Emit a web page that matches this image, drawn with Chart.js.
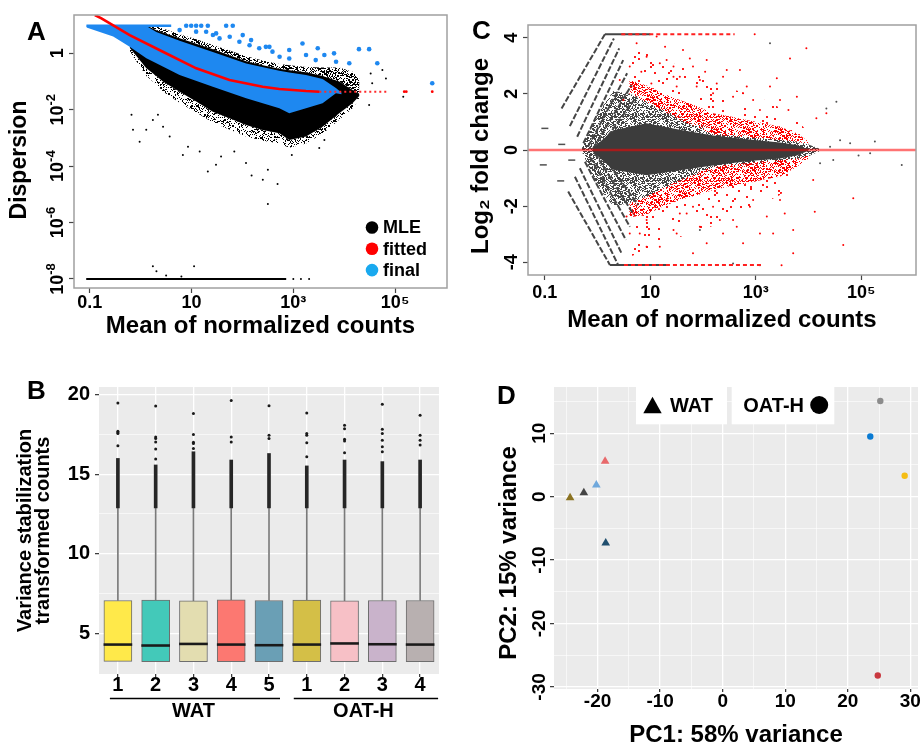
<!DOCTYPE html>
<html>
<head>
<meta charset="utf-8">
<title>DESeq2 overview</title>
<script src="https://cdn.jsdelivr.net/npm/chart.js@4.4.1/dist/chart.umd.min.js"></script>
<style>
  body { margin: 0; background: #fff; }
  #page { position: relative; width: 923px; height: 744px; overflow: hidden; }
  #page canvas { position: absolute; }
  .tag { position: absolute; font: bold 26px 'Liberation Sans', Arial, sans-serif; line-height: 26px; }
</style>
</head>
<body>
<div id="page">
  <canvas id="dispChart" width="460" height="345" style="left:0;top:0"></canvas>
  <canvas id="maChart" width="463" height="345" style="left:460px;top:0"></canvas>
  <canvas id="vstChart" width="460" height="374" style="left:0;top:370px"></canvas>
  <canvas id="pcaChart" width="443" height="374" style="left:480px;top:370px"></canvas>
  <div class="tag" style="left:27px;top:18px">A</div>
  <div class="tag" style="left:27px;top:377px">B</div>
  <div class="tag" style="left:472px;top:17px">C</div>
  <div class="tag" style="left:497px;top:382px">D</div>
</div>
<script>
// ---------- A: dispersion estimates (log10 mean, log10 dispersion) ----------
const countTicks = [-1, 1, 3, 5];
const countTickLabels = ['0.1', '10', '10³', '10⁵'];
const dispTicks = [0, -2, -4, -6, -8];
const dispTickLabels = ['1', '10^-2', '10^-4', '10^-6', '10^-8'];

const mleMean = [-0.216, -0.151, 0.112, 0.308, 0.437, 0.765, 1.092, 1.418, 1.745, 2.073, 2.398, 2.725, 2.92, 3.249, 3.575, 3.902, 4.163, 4.3];
const mleTop  = [0.95, 1.0, 1.0, 0.95, 0.88, 0.68, 0.5, 0.3, 0.1, -0.1, -0.25, -0.38, -0.42, -0.48, -0.5, -0.5, -0.65, -0.9];
const mleHi   = [0.9, 1.0, 1.0, 0.82, 0.74, 0.54, 0.34, 0.15, -0.07, -0.28, -0.42, -0.55, -0.6, -0.67, -0.8, -1.0, -1.3, -1.45];
const mleLo   = [0.2, 0.06, -0.53, -0.8, -1.0, -1.36, -1.71, -2.07, -2.30, -2.54, -2.72, -2.83, -3.07, -2.95, -2.6, -2.12, -1.77, -1.5];
const mleFringeLo = [0.1, -0.1, -0.8, -1.1, -1.35, -1.75, -2.1, -2.45, -2.7, -2.95, -3.1, -3.2, -3.35, -3.2, -2.85, -2.35, -1.95, -1.6];

const finMean = [-1.065, -0.54, -0.216, 0.112, 0.308, 0.765, 1.418, 2.073, 2.725, 2.92, 3.249, 3.575, 3.837, 3.95];
const finHi   = [1.0, 1.0, 1.0, 0.97, 0.76, 0.45, 0.046, -0.36, -0.62, -0.68, -0.77, -0.91, -1.23, -1.4];
const finLo   = [0.92, 0.6, 0.234, -0.177, -0.35, -0.768, -1.18, -1.593, -1.947, -2.124, -1.947, -1.77, -1.416, -1.45];

const fitMean = [-0.9, -0.771, -0.216, 0.437, 1.092, 1.745, 2.398, 2.725, 3.249, 3.51];
const fitDisp = [1.36, 1.239, 0.648, 0.057, -0.531, -0.945, -1.182, -1.264, -1.335, -1.359];
const fitDashMean = [3.51, 4.88];
const fitDashDisp = [-1.359, -1.359];
const fitTailMean = [5.18, 5.22, 5.73];
const fitTailDisp = [-1.359, -1.359, -1.359];

const capMean = [-1.065, 0.6];
const capDisp = [0.98, 0.98];
const floorMean = [-1.07, 2.86];
const floorDisp = [-8, -8];

const mleOutMean = [-0.18, -0.15, -0.02, 0.11, 0.24, 0.34, 0.44, 0.57, 0.83, 0.93, 1.16, 1.32, 1.48, 1.58, 1.84, 2.07, 2.18, 2.40, 2.50, 2.69, 2.50, 2.97, 3.51, 3.61,
  4.49, 4.52, 4.55, 4.75, 4.82, 5.16, 0.24, 0.31, 0.50, 1.05, 0.80, 3.0, 3.15, 3.31];
const mleOutDisp = [-2.18, -2.71, -3.13, -2.71, -2.36, -2.18, -2.60, -2.95, -3.60, -3.31, -3.48, -4.19, -3.95, -3.66, -3.48, -3.89, -4.33, -4.48, -4.13, -4.63, -5.34, -3.60, -3.36, -3.07,
  -1.83, -0.71, -1.06, -0.59, -0.89, -1.54, -7.55, -7.73, -7.88, -7.55, -7.91, -8, -8, -8];

const finOutMean = [0.895, 0.993, 1.09, 1.19, 1.32, 1.68, 1.81, 0.765, 1.09, 1.42, 1.55, 1.75, 1.94, 2.14, 2.33, 2.46, 2.59, 2.006, 2.17, 2.53, 2.92,
  3.18, 3.48, 3.61, 3.80, 3.84, 4.10, 4.29, 4.49, 4.65, 2.73, 2.92, 3.25, 3.44, 1.483, 1.287, 5.73];
const finOutDisp = [0.98, 0.98, 0.98, 0.98, 0.98, 0.98, 0.98, 0.825, 0.77, 0.65, 0.53, 0.59, 0.41, 0.29, 0.18, 0.23, 0.06, 0.648, 0.47, 0.23, 0.12,
  0.35, 0.18, -0.06, 0.0, -0.30, -0.35, 0.15, 0.15, -0.35, -0.12, -0.18, -0.06, -0.24, 0.707, 0.766, -1.06];

const dispLegend = ['MLE', 'fitted', 'final'];
const dispLegendColors = ['#000000', '#ff0000', '#19a9ef'];

// ---------- C: MA plot (log10 mean, log2 fold change) ----------
const lfcTicks = [-4, -2, 0, 2, 4];
const lfcTickLabels = ['-4', '-2', '0', '2', '4'];

const nsMean = [-0.3, 0.0, 0.3, 0.6, 0.93, 1.25, 1.56, 1.9, 2.19, 2.5, 2.83, 3.15, 3.46, 3.78, 4.0, 4.2];
const nsHi   = [0.05, 1.3, 2.1, 2.0, 1.78, 1.5, 1.19, 0.95, 0.75, 0.62, 0.5, 0.42, 0.38, 0.3, 0.2, 0.05];
const nsLo   = [-0.05, -1.3, -2.0, -1.9, -1.66, -1.42, -1.19, -0.95, -0.77, -0.65, -0.56, -0.5, -0.47, -0.32, -0.22, -0.05];

const coreMean = [-0.1, 0.3, 0.93, 1.56, 2.19, 2.83, 3.46, 3.78, 4.0];
const coreHi   = [0.05, 0.7, 0.95, 0.72, 0.52, 0.38, 0.27, 0.18, 0.03];
const coreLo   = [-0.05, -0.7, -0.9, -0.72, -0.55, -0.4, -0.3, -0.2, -0.03];

const sigBandMean = [0.6, 0.93, 1.25, 1.56, 1.9, 2.19, 2.5, 2.83, 3.15, 3.46, 3.78, 4.0];
const upLo    = [2.0, 1.7, 1.4, 1.07, 0.8, 0.55, 0.5, 0.45, 0.4, 0.36, 0.3, 0.2];
const upHi    = [2.5, 2.3, 2.0, 1.78, 1.55, 1.31, 1.2, 1.07, 0.95, 0.83, 0.6, 0.3];
const upOuter = [3.8, 3.5, 3.2, 3.0, 2.8, 2.5, 2.2, 2.0, 1.8, 1.5, 1.1, 0.6];
const downHi    = [-1.9, -1.66, -1.35, -1.07, -0.8, -0.6, -0.52, -0.47, -0.4, -0.36, -0.3, -0.2];
const downLo    = [-2.4, -2.3, -2.0, -1.78, -1.6, -1.42, -1.3, -1.19, -1.05, -0.95, -0.6, -0.3];
const downOuter = [-3.8, -3.6, -3.3, -3.1, -2.9, -2.7, -2.5, -2.2, -1.9, -1.6, -1.1, -0.6];

const stripeX0 = [-0.683, -0.526, -0.387, -0.27, -0.18, -0.083, 0.011, -0.558, -0.43, -0.336, -0.24, -0.146, -0.05, 0.044];
const stripeY0 = [1.48, 0.85, 0.47, 0.24, 0.12, 0.06, 0.02, -1.48, -0.95, -0.65, -0.42, -0.24, -0.12, -0.06];
const stripeX1 = [0.139, 0.309, 0.41, 0.486, 0.56, 0.645, 0.74, 0.233, 0.39, 0.455, 0.537, 0.613, 0.689, 0.77];
const stripeY1 = [4.12, 3.97, 3.62, 3.20, 2.73, 2.31, 1.90, -4.09, -4.09, -3.68, -3.20, -2.73, -2.31, -1.96];

const dashMean = [-1.0, -0.68, -1.03, -0.70, -0.49];
const dashLfc  = [0.77, 0.2, -0.53, -1.10, -0.36];

const capTopMean = [0.139, 1.0];
const capTopRedMean = [0.45, 2.6];
const capTopLfc = [4.12, 4.12];
const capBotMean = [0.233, 1.3];
const capBotRedMean = [0.5, 3.1];
const capBotLfc = [-4.09, -4.09];

const sigMean = [0.61, 0.74, 0.93, 1.12, 1.31, 1.44, 1.50, 1.62, 1.81, 1.94, 2.07, 2.19, 2.38, 2.57, 2.70, 2.83, 2.95, 3.08, 3.27, 3.46, 3.62, 3.96, 4.15, 4.34, 3.65, 2.98,
  0.42, 0.49, 0.68, 0.83, 1.02, 1.18, 1.28, 1.44, 1.56, 1.75, 1.88, 2.04, 2.26, 2.45, 2.76, 3.40, 3.78,
  0.68, 0.80, 0.93, 1.18, 1.31, 1.50, 1.69, 1.81, 1.94, 2.19, 2.38, 2.57, 2.76, 2.89, 3.08, 3.21, 3.46, 3.71, 3.71, 4.09, 4.12, 4.66, 4.85, 3.49,
  0.55, 0.61, 0.93, 1.09, 1.44, 1.56, 1.81, 2.07, 2.32, 2.64, 2.95, 3.33, 3.55];
const sigLfc = [2.97, 3.80, 3.32, 4.04, 3.20, 2.61, 2.26, 3.56, 2.97, 2.49, 3.20, 2.02, 2.61, 1.90, 2.85, 2.26, 1.78, 1.42, 2.26, 1.78, 1.42, 3.62, 1.13, 1.31, 3.26, 4.12,
  2.49, 1.78, 2.26, 2.79, 2.37, 3.09, 3.68, 2.97, 2.61, 3.26, 2.26, 2.79, 2.37, 2.85, 2.02, 2.55, 1.90,
  -2.26, -2.97, -2.49, -3.44, -1.78, -2.97, -2.26, -3.68, -2.73, -2.02, -2.97, -2.49, -3.32, -2.02, -2.97, -2.37, -1.78, -2.85, -3.68, -1.07, -2.20, -3.38, -1.72, -4.10,
  -2.37, -2.97, -3.44, -2.02, -2.85, -2.26, -2.02, -3.32, -2.49, -2.73, -1.78, -2.97, -2.26];

const nsOutMean = [3.27, 4.34, 4.53, 4.79, 5.17, 5.26, 5.77, 4.41, 4.22, 4.47, 2.57, 3.08, 1.94, 4.60, 4.95];
const nsOutLfc  = [3.80, 1.48, 1.72, 0.24, -0.12, 0.30, -0.53, 0.12, -0.47, -0.36, -4.04, -4.10, -2.85, 0.35, -0.2];

// ---------- B: variance-stabilized counts per sample ----------
const sampleLabels = ['1', '2', '3', '4', '5', '1', '2', '3', '4'];
const sampleGroups = ['WAT', 'WAT', 'WAT', 'WAT', 'WAT', 'OAT-H', 'OAT-H', 'OAT-H', 'OAT-H'];
const groupNames = ['WAT', 'OAT-H'];
const sampleColors = ['#ffe94a', '#43c9b9', '#e3ddb0', '#fc7871', '#6a9fb5', '#d4bf47', '#f7c0c6', '#c9b3cb', '#b8b0b0'];
const vstQ1  = [3.23, 3.21, 3.21, 3.21, 3.21, 3.21, 3.21, 3.21, 3.21];
const vstMed = [4.29, 4.23, 4.33, 4.29, 4.25, 4.29, 4.36, 4.31, 4.29];
const vstQ3  = [7.06, 7.08, 7.04, 7.10, 7.06, 7.08, 7.04, 7.06, 7.06];
const vstWhiskerHi = [12.88, 12.88, 12.88, 12.88, 12.88, 12.88, 12.88, 12.88, 12.88];
const vstDenseTop  = [15.99, 15.58, 16.41, 15.89, 16.30, 15.52, 15.89, 15.79, 15.89];
const outlierSample = [0, 0, 0, 0, 0, 1, 1, 1, 1, 1, 1, 2, 2, 2, 2, 2, 3, 3, 3, 4, 4, 4, 5, 5, 5, 5, 5, 6, 6, 6, 6, 6, 7, 7, 7, 7, 7, 7, 8, 8, 8, 8];
const outlierValue  = [16.78, 17.55, 17.70, 17.62, 19.48, 15.95, 16.58, 17.03, 17.34, 17.25, 19.28, 16.62, 16.93, 17.0, 17.49, 18.82, 17.03, 17.34, 19.63, 17.24, 17.45, 19.30,
  16.10, 16.97, 17.45, 17.55, 18.84, 16.35, 17.09, 17.2, 17.86, 18.07, 16.41, 16.72, 17.14, 17.55, 17.82, 19.40, 16.83, 17.14, 17.45, 18.70];
const vstTicks = [5, 7.5, 10, 12.5, 15, 17.5, 20];
const vstTickLabels = ['5', '', '10', '', '15', '', '20'];

// ---------- D: PCA ----------
const watPC1 = [-18.8, -20.2, -22.2, -24.4, -18.7];
const watPC2 = [5.6, 1.84, 0.63, -0.16, -7.3];
const watColors = ['#e8696b', '#6fa8dc', '#454545', '#8b7322', '#1f4e6e'];
const oatPC1 = [25.2, 23.6, 29.1, 24.8];
const oatPC2 = [15.1, 9.5, 3.3, -28.2];
const oatColors = ['#8c8c8c', '#0a7bd3', '#f5bd12', '#c9383f'];
const pcTicksX = [-25, -20, -15, -10, -5, 0, 5, 10, 15, 20, 25, 30];
const pcTickLabelsX = ['', '-20', '', '-10', '', '0', '', '10', '', '20', '', '30'];
const pcTicksY = [-30, -25, -20, -15, -10, -5, 0, 5, 10, 15];
const pcTickLabelsY = ['-30', '', '-20', '', '-10', '', '0', '', '10', ''];

// ---------- helpers ----------
const FONT = "'Liberation Sans', Arial, sans-serif";
Chart.defaults.font.family = FONT;
Chart.defaults.color = '#000';
Chart.defaults.animation = false;

const pts = (xs, ys) => xs.map((x, i) => ({ x, y: ys[i] }));
const hidden = { borderColor: 'rgba(0,0,0,0)', borderWidth: 0, pointRadius: 0, fill: false };

function band(xs, hi, lo, color, order) {
  return [
    { ...hidden, data: pts(xs, hi), order },
    { ...hidden, data: pts(xs, lo), fill: '-1', backgroundColor: color, order }
  ];
}
function dots(xs, ys, color, r, order, extra) {
  return { data: pts(xs, ys), showLine: false, pointRadius: r, pointBackgroundColor: color,
    pointBorderWidth: 0, borderColor: color, order, ...extra };
}
function path(xs, ys, color, w, order, extra) {
  return { data: pts(xs, ys), borderColor: color, borderWidth: w, pointRadius: 0, fill: false, order, ...extra };
}
// fill texture so dense point clouds read as speckle rather than flat paint;
// a fixed integer hash scatters the cells of one tile (style only, no data)
function speckle(color, density, dot) {
  const cell = dot || 1, n = 32;
  const c = document.createElement('canvas');
  c.width = n * cell; c.height = n * cell;
  const g = c.getContext('2d');
  g.fillStyle = color;
  for (let i = 0; i < n; i++) {
    for (let j = 0; j < n; j++) {
      let h = Math.imul(i, 374761393) + Math.imul(j, 668265263);
      h = Math.imul(h ^ (h >>> 13), 1274126177);
      h = (h ^ (h >>> 16)) >>> 0;
      if (h % 1000 < density * 1000) g.fillRect(i * cell, j * cell, cell, cell);
    }
  }
  return g.createPattern(c, 'repeat');
}
const redSpeckle = speckle('#ff0000', 0.42);
const redSparse = speckle('#ff1a1a', 0.05, 2);
const graySpeckle = speckle('#454545', 0.5);
const blackSpeckle = speckle('#000000', 0.3);
const blackSpeckleDense = speckle('#000000', 0.5);

function setTicks(values) {
  return s => { s.ticks = values.map(v => ({ value: v })); };
}
const boldFont = (size, lineHeight) => ({ family: FONT, weight: 'bold', size, lineHeight: lineHeight || 1.2 });

// y tick labels (and optional title) rotated like R / ggplot vertical axis text;
// 'base^exp' labels get a raised, smaller exponent
function sideText(values, labels, x, size, title) {
  return {
    id: 'sideText',
    afterDraw(chart) {
      const ctx = chart.ctx, y = chart.scales.y;
      const big = `bold ${size}px ${FONT}`, small = `bold ${Math.round(size * 0.72)}px ${FONT}`;
      ctx.save();
      ctx.fillStyle = '#000';
      ctx.textBaseline = 'alphabetic';
      values.forEach((v, i) => {
        if (!labels[i]) return;
        const [base, exp] = labels[i].split('^');
        ctx.save();
        ctx.translate(x, y.getPixelForValue(v));
        ctx.rotate(-Math.PI / 2);
        ctx.textAlign = 'left';
        ctx.font = big;
        const wb = ctx.measureText(base).width;
        ctx.font = small;
        const we = exp ? ctx.measureText(exp).width : 0;
        const x0 = -(wb + we) / 2;
        ctx.font = big;
        ctx.fillText(base, x0, 0);
        if (exp) {
          ctx.font = small;
          ctx.fillText(exp, x0 + wb, -size * 0.45);
        }
        ctx.restore();
      });
      if (title) {
        ctx.font = `bold ${title.size}px ${FONT}`;
        ctx.textAlign = 'center';
        ctx.textBaseline = 'middle';
        ctx.translate(title.x, title.y);
        ctx.rotate(-Math.PI / 2);
        ctx.fillText(title.text, 0, 0);
      }
      ctx.restore();
    }
  };
}
const frameBox = {
  id: 'frameBox',
  afterDatasetsDraw(chart) {
    const { ctx, chartArea: a } = chart;
    ctx.save();
    ctx.strokeStyle = '#a0a0a0';
    ctx.lineWidth = 1.5;
    ctx.strokeRect(a.left, a.top, a.width, a.height);
    ctx.restore();
  }
};
const ggPanel = {
  id: 'ggPanel',
  beforeDraw(chart) {
    const { ctx, chartArea: a } = chart;
    ctx.save();
    ctx.fillStyle = '#ebebeb';
    ctx.fillRect(a.left, a.top, a.width, a.height);
    ctx.restore();
  }
};
const rTicks = { drawOnChartArea: false, tickLength: 5, tickColor: '#444', tickWidth: 1.2 };
const quiet = { legend: { display: false }, tooltip: { enabled: false } };

// ---------- A ----------
const dispKey = {
  id: 'dispKey',
  afterDraw(chart) {
    const ctx = chart.ctx;
    ctx.save();
    ctx.font = `bold 18px ${FONT}`;
    ctx.textBaseline = 'middle';
    dispLegend.forEach((t, i) => {
      const cy = 227.5 + i * 21.3;
      ctx.fillStyle = dispLegendColors[i];
      ctx.beginPath(); ctx.arc(372, cy, 6.3, 0, Math.PI * 2); ctx.fill();
      ctx.fillStyle = '#000';
      ctx.fillText(t, 383, cy + 1);
    });
    ctx.restore();
  }
};
new Chart(document.getElementById('dispChart'), {
  type: 'line',
  data: { datasets: [
    path(fitMean, fitDisp, '#ff0000', 2.6, 1),
    path(fitDashMean, fitDashDisp, '#ff2a2a', 2, 1, { borderDash: [2, 3] }),
    dots(fitTailMean, fitTailDisp, '#ff0000', 1.4, 1),
    dots(finOutMean, finOutDisp, '#1e88f0', 2.3, 2),
    path(capMean, capDisp, '#1e88f0', 2.5, 3),
    ...band(finMean, finHi, finLo, '#1e88f0', 3),
    dots(mleOutMean, mleOutDisp, '#000', 1, 4),
    path(floorMean, floorDisp, '#000', 2, 4),
    ...band(mleMean, mleHi, mleLo, '#000', 5),
    ...band(mleMean, mleTop, mleHi, blackSpeckleDense, 6),
    ...band(mleMean, mleLo, mleFringeLo, blackSpeckle, 6)
  ] },
  options: {
    responsive: false,
    layout: { padding: { left: 0, top: 15, right: 13, bottom: 0 } },
    plugins: quiet,
    scales: {
      x: { type: 'linear', min: -1.31, max: 6.02, afterBuildTicks: setTicks(countTicks),
        afterFit: s => { s.height = 57; }, grid: rTicks, border: { display: false },
        ticks: { callback: (v, i) => countTickLabels[i], font: boldFont(18, 1), padding: 1, autoSkip: false, maxRotation: 0 },
        title: { display: true, text: 'Mean of normalized counts', font: boldFont(24), padding: { top: 0, bottom: 3.9 } } },
      y: { type: 'linear', min: -8.32, max: 1.36, afterBuildTicks: setTicks(dispTicks),
        afterFit: s => { s.width = 74; }, grid: rTicks, border: { display: false }, ticks: { display: false } }
    }
  },
  plugins: [frameBox, dispKey, sideText(dispTicks, dispTickLabels, 63, 18, { text: 'Dispersion', size: 23, x: 20, y: 160 })]
});

// ---------- C ----------
new Chart(document.getElementById('maChart'), {
  type: 'line',
  data: { datasets: [
    path([-1.32, 6.04], [0, 0], 'rgba(255,0,0,0.55)', 2.5, 0),
    path(capTopRedMean, capTopLfc, '#ff2020', 2, 1, { borderDash: [4, 3] }),
    path(capBotRedMean, capBotLfc, '#ff2020', 2, 1, { borderDash: [4, 3] }),
    dots(sigMean, sigLfc, '#ff0000', 1, 1),
    ...band(coreMean, coreHi, coreLo, '#3c3c3c', 2),
    ...stripeX0.map((x0, i) => path([x0, stripeX1[i]], [stripeY0[i], stripeY1[i]], '#454545', 2, 3, { borderDash: [6, 2] })),
    path(capTopMean, capTopLfc, '#454545', 2, 3),
    path(capBotMean, capBotLfc, '#454545', 2, 3),
    dots(nsOutMean, nsOutLfc, '#505050', 1, 3),
    dots(dashMean, dashLfc, '#505050', 3.5, 3, { pointStyle: 'line', pointBorderWidth: 1.5 }),
    ...band(sigBandMean, upHi, upLo, redSpeckle, 4),
    ...band(sigBandMean, downHi, downLo, redSpeckle, 4),
    ...band(sigBandMean, upOuter, upHi, redSparse, 4),
    ...band(sigBandMean, downLo, downOuter, redSparse, 4),
    ...band(nsMean, nsHi, nsLo, graySpeckle, 5)
  ] },
  options: {
    responsive: false,
    layout: { padding: { left: 0, top: 25, right: 7, bottom: 0 } },
    plugins: quiet,
    scales: {
      x: { type: 'linear', min: -1.32, max: 6.04, afterBuildTicks: setTicks(countTicks),
        afterFit: s => { s.height = 70; }, grid: rTicks, border: { display: false },
        ticks: { callback: (v, i) => countTickLabels[i], font: boldFont(18, 1), padding: 4, autoSkip: false, maxRotation: 0 },
        title: { display: true, text: 'Mean of normalized counts', font: boldFont(24), padding: { top: 0, bottom: 10.6 } } },
      y: { type: 'linear', min: -4.45, max: 4.45, afterBuildTicks: setTicks(lfcTicks),
        afterFit: s => { s.width = 68; }, grid: rTicks, border: { display: false }, ticks: { display: false } }
    }
  },
  plugins: [frameBox, sideText(lfcTicks, lfcTickLabels, 57, 18, { text: 'Log₂ fold change', size: 24, x: 21, y: 156 })]
});

// ---------- B ----------
const sampleKeys = sampleLabels.map((s, i) => sampleGroups[i] + ' ' + s);
const groupBars = {
  id: 'groupBars',
  afterDraw(chart) {
    const ctx = chart.ctx, x = chart.scales.x;
    const padL = [8, 13], padR = [11, 18];
    ctx.save();
    ctx.strokeStyle = '#000';
    ctx.lineWidth = 1.5;
    ctx.fillStyle = '#000';
    ctx.font = `bold 20px ${FONT}`;
    ctx.textAlign = 'center';
    ctx.textBaseline = 'middle';
    groupNames.forEach((g, k) => {
      const idx = sampleGroups.map((s, i) => (s === g ? i : -1)).filter(i => i >= 0);
      const a = x.getPixelForValue(idx[0]), b = x.getPixelForValue(idx[idx.length - 1]);
      ctx.beginPath();
      ctx.moveTo(a - padL[k], 328.5);
      ctx.lineTo(b + padR[k], 328.5);
      ctx.stroke();
      ctx.fillText(g, (a + b) / 2, 341);
    });
    ctx.restore();
  }
};
const ggGrid = major => ({
  color: '#ffffff',
  lineWidth: c => (c.tick && major(c.tick.value) ? 1.3 : 0.6),
  tickColor: c => (c.tick && major(c.tick.value) ? '#333' : 'rgba(0,0,0,0)'),
  tickLength: 4, tickWidth: 1.2
});
new Chart(document.getElementById('vstChart'), {
  type: 'bar',
  data: {
    labels: sampleKeys,
    datasets: [
      { type: 'line', data: outlierValue.map((v, i) => ({ x: sampleKeys[outlierSample[i]], y: v })),
        showLine: false, pointRadius: 1.5, pointBackgroundColor: '#1a1a1a', pointBorderWidth: 0, order: 0 },
      { data: vstMed.map(m => [m - 0.06, m + 0.06]), backgroundColor: '#1a1a1a', barThickness: 28, grouped: false, order: 1 },
      { data: vstQ1.map((q, i) => [q, vstQ3[i]]), backgroundColor: sampleColors, borderColor: '#6e6e6e',
        borderWidth: 1, borderSkipped: false, barThickness: 28, grouped: false, order: 2 },
      { data: vstWhiskerHi.map((w, i) => [w, vstDenseTop[i]]), backgroundColor: '#262626', barThickness: 3, grouped: false, order: 3 },
      { data: vstQ3.map((q, i) => [q, vstWhiskerHi[i]]), backgroundColor: '#7a7a7a', barThickness: 1, grouped: false, order: 4 }
    ]
  },
  options: {
    responsive: false,
    layout: { padding: { left: 0, top: 15, right: 21, bottom: 0 } },
    plugins: quiet,
    scales: {
      x: { afterFit: s => { s.height = 70; }, border: { display: false },
        grid: { ...ggGrid(() => true), offset: false, tickLength: 3 },
        ticks: { callback: (v, i) => sampleLabels[i], font: boldFont(20, 1), padding: -2, autoSkip: false, maxRotation: 0 } },
      y: { min: 2.44, max: 20.48, afterBuildTicks: setTicks(vstTicks), afterFit: s => { s.width = 99; },
        border: { display: false }, grid: ggGrid(v => v % 5 === 0),
        ticks: { callback: (v, i) => vstTickLabels[i], font: boldFont(20), padding: 5, autoSkip: false },
        title: { display: true, text: ['Variance stabilization', 'transformed counts'], font: boldFont(20, 0.9), padding: { top: 16, bottom: 0 } } }
    }
  },
  plugins: [ggPanel, groupBars]
});

// ---------- D ----------
const pcaKey = {
  id: 'pcaKey',
  afterDraw(chart) {
    const ctx = chart.ctx;
    ctx.save();
    ctx.fillStyle = '#fff';
    ctx.fillRect(156, 17, 91, 37.3);
    ctx.fillRect(251.7, 17, 102.6, 37.3);
    ctx.fillStyle = '#000';
    ctx.beginPath();
    ctx.moveTo(172.5, 26.7); ctx.lineTo(181.7, 43.3); ctx.lineTo(163.3, 43.3); ctx.closePath();
    ctx.fill();
    ctx.beginPath(); ctx.arc(339.2, 35, 9, 0, Math.PI * 2); ctx.fill();
    ctx.font = `bold 20px ${FONT}`;
    ctx.textBaseline = 'middle';
    ctx.fillText(groupNames[0], 190, 36);
    ctx.fillText(groupNames[1], 263.3, 36);
    ctx.restore();
  }
};
new Chart(document.getElementById('pcaChart'), {
  type: 'scatter',
  data: { datasets: [
    { data: pts(watPC1, watPC2), pointStyle: 'triangle', pointRadius: 5, pointBackgroundColor: watColors, pointBorderWidth: 0, borderColor: watColors },
    { data: pts(oatPC1, oatPC2), pointStyle: 'circle', pointRadius: 3.2, pointBackgroundColor: oatColors, pointBorderWidth: 0, borderColor: oatColors }
  ] },
  options: {
    responsive: false,
    layout: { padding: { left: 0, top: 17, right: 0, bottom: 0 } },
    plugins: quiet,
    scales: {
      x: { min: -26.97, max: 31.23, afterBuildTicks: setTicks(pcTicksX), afterFit: s => { s.height = 55; },
        border: { display: false }, grid: { ...ggGrid(v => v % 10 === 0), tickLength: 3 },
        ticks: { callback: (v, i) => pcTickLabelsX[i], font: boldFont(19, 1), padding: 0, autoSkip: false, maxRotation: 0 },
        title: { display: true, text: 'PC1: 58% variance', font: boldFont(24), padding: { top: 0, bottom: -5.4 } } },
      y: { min: -30.33, max: 17.3, afterBuildTicks: setTicks(pcTicksY), afterFit: s => { s.width = 74; },
        border: { display: false }, grid: ggGrid(v => v % 10 === 0), ticks: { display: false } }
    }
  },
  plugins: [ggPanel, pcaKey, sideText(pcTicksY, pcTickLabelsY, 65, 19, { text: 'PC2: 15% variance', size: 24, x: 29, y: 183 })]
});
</script>
</body>
</html>
